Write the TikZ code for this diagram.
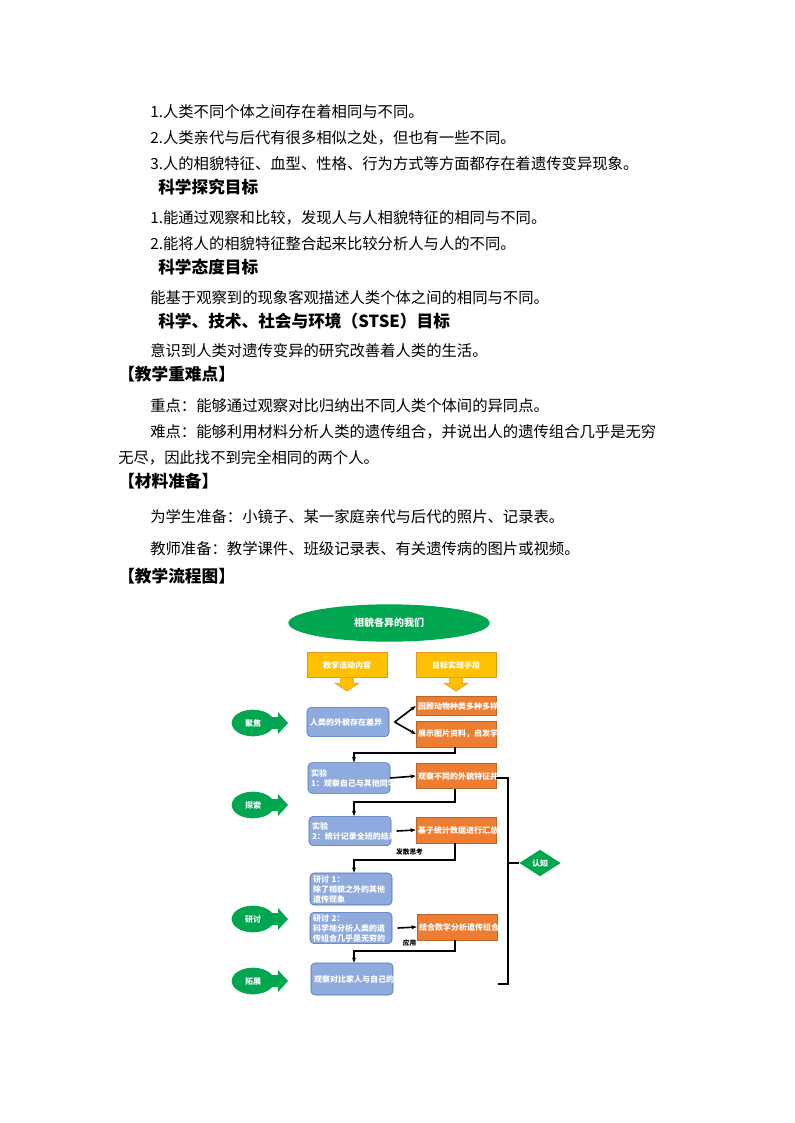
\documentclass[tikz,border=0pt]{standalone}
\usepackage{fontspec}
\setmainfont{Noto Sans CJK SC}
\usetikzlibrary{shapes.geometric,shapes.arrows,arrows.meta}
\definecolor{gr}{RGB}{0,166,80}
\definecolor{yl}{RGB}{255,192,0}
\definecolor{ylb}{RGB}{230,150,40}
\definecolor{bl}{RGB}{143,170,220}
\definecolor{blb}{RGB}{70,110,180}
\definecolor{orr}{RGB}{237,125,49}
\begin{document}
\begin{tikzpicture}[x=0.75pt,y=-0.75pt,
 body/.style={anchor=west,inner sep=0,font=\fontsize{11.5}{13}\selectfont},
 head/.style={anchor=west,inner sep=0,font=\fontsize{12.5}{14}\selectfont\bfseries},
 bbox/.style={draw=blb,fill=bl,rounded corners=3pt,minimum width=61.5pt,text width=57pt,inner sep=1pt,font=\fontsize{6}{7.5}\selectfont\bfseries,text=white,align=left},
 obox/.style={draw=orr!80!black,fill=orr,minimum width=60pt,text width=57pt,inner sep=1pt,font=\fontsize{6}{7.5}\selectfont\bfseries,text=white,align=left},
 ybox/.style={draw=ylb,fill=yl,minimum width=60pt,minimum height=18.75pt,font=\fontsize{6}{7}\selectfont\bfseries,text=white},
 conn/.style={line width=1.2pt,-{Stealth[length=4pt]}},
 plain/.style={line width=1.2pt},
 side/.style={ellipse,fill=gr,minimum width=32pt,minimum height=20pt,inner sep=0,font=\fontsize{6}{7}\selectfont\bfseries,text=white}]
\useasboundingbox (0,0) rectangle (794,1123);
\fill[white] (0,0) rectangle (794,1123);
% text
\node[body] (t1) at (150,112) {1.人类不同个体之间存在着相同与不同。};
\node[body] (t2) at (150,138) {2.人类亲代与后代有很多相似之处，但也有一些不同。};
\node[body] (t3) at (150,164) {3.人的相貌特征、血型、性格、行为方式等方面都存在着遗传变异现象。};
\node[head] (h1) at (158,187) {科学探究目标};
\node[body] (t4) at (150,218) {1.能通过观察和比较，发现人与人相貌特征的相同与不同。};
\node[body] (t5) at (150,244) {2.能将人的相貌特征整合起来比较分析人与人的不同。};
\node[head] (h2) at (158,267) {科学态度目标};
\node[body] (t6) at (150,298) {能基于观察到的现象客观描述人类个体之间的相同与不同。};
\node[head] (h3) at (158,321) {科学、技术、社会与环境（STSE）目标};
\node[body] (t7) at (150,351) {意识到人类对遗传变异的研究改善着人类的生活。};
\node[head] (h4) at (118,374) {【教学重难点】};
\node[body] (t8) at (150,406) {重点：能够通过观察对比归纳出不同人类个体间的异同点。};
\node[body] (t9) at (150,432) {难点：能够利用材料分析人类的遗传组合，并说出人的遗传组合几乎是无穷};
\node[body] (t10) at (118,458) {无尽，因此找不到完全相同的两个人。};
\node[head] (h5) at (118,481) {【材料准备】};
\node[body] (t11) at (150,517) {为学生准备：小镜子、某一家庭亲代与后代的照片、记录表。};
\node[body] (t12) at (150,549) {教师准备：教学课件、班级记录表、有关遗传病的图片或视频。};
\node[head] (h6) at (118,576) {【教学流程图】};
% flowchart
\node[ellipse,fill=gr,minimum width=151pt,minimum height=28pt,font=\fontsize{7.5}{9}\selectfont\bfseries,text=white] (top) at (389,623) {相貌各异的我们};
\node[ybox] (y1) at (347,665) {教学活动内容};
\node[ybox] (y2) at (456,665) {目标实现手段};
\foreach \n in {y1,y2}{
 \fill[yl,draw=ylb] ([xshift=-5pt]\n.south) -- ++(0,-4pt) -- ++(-4pt,0) -- ([yshift=-10pt]\n.south) -- ([xshift=9pt,yshift=-4pt]\n.south) -- ([xshift=5pt,yshift=-4pt]\n.south) -- ([xshift=5pt]\n.south);}
\node[bbox,minimum height=22pt] (b1) at (348,722) {人类的外貌存在差异};
\node[obox,minimum height=14pt] (r1) at (456,706) {回顾动物种类多种多样};
\node[obox,minimum height=19.5pt] (r2) at (456,734) {展示图片资料，启发学生思考};
\node[bbox,minimum height=23pt] (b2) at (349,778) {实验 1：观察自己与其他同学外貌的异同};
\node[obox,minimum height=19pt] (r3) at (456,776) {观察不同的外貌特征并加以区分};
\node[bbox,minimum height=22pt] (b3) at (350,831) {实验 2：统计记录全班的结果并分析};
\node[obox,minimum height=19.5pt] (r4) at (456,830) {基于统计数据进行汇总并提炼核心};
\node[bbox,minimum height=24pt] (b4) at (351,889) {研讨 1：\\除了相貌之外的其他\\遗传现象};
\node[bbox,minimum height=23.5pt] (b5) at (351,928) {研讨 2：\\科学地分析人类的遗\\传组合几乎是无穷的};
\node[obox,minimum height=19.5pt] (r5) at (457,927) {结合数学分析遗传组合};
\node[bbox,minimum height=24pt] (b6) at (352,979) {观察对比家人与自己的异同点};
\node[diamond,fill=gr,minimum width=31pt,minimum height=20pt,inner sep=0,font=\fontsize{6}{7}\selectfont\bfseries,text=white] (d) at (540,863) {认知};
% side labels
\foreach \n/\yy/\t in {s1/723/聚焦,s2/805/探索,s3/919/研讨,s4/981/拓展}{
 \fill[gr] (272,\yy-6) -- (278,\yy-6) -- (278,\yy-11) -- (288,\yy) -- (278,\yy+11) -- (278,\yy+6) -- (272,\yy+6) -- cycle;
 \node[side] (\n) at (253,\yy) {\t};}
% connectors
\draw[conn] ([xshift=4pt]b1.east) -- (r1.west);
\draw[conn] ([xshift=4pt]b1.east) -- (r2.west);
\coordinate (c1) at (455,753); \coordinate (c1b) at (354,753);
\draw[conn] (r2.south -| c1) -- (c1) -- (c1b) -- (c1b |- b2.north);
\draw[conn] (b2.east) -- (r3.west);
\coordinate (c2) at (455,802); \coordinate (c2b) at (354,802);
\draw[conn] (r3.south -| c2) -- (c2) -- (c2b) -- (c2b |- b3.north);
\draw[conn] ([xshift=4pt]b3.east) -- (r4.west);
\coordinate (c3) at (455,860); \coordinate (c3b) at (354,860);
\draw[conn] (r4.south -| c3) -- (c3) -- node[above,font=\fontsize{5}{6}\selectfont\bfseries,pos=0.45] {发散思考} (c3b) -- (c3b |- b4.north);
\draw[conn] ([xshift=4pt]b5.east) -- (r5.west);
\coordinate (c4) at (455,951); \coordinate (c4b) at (354,951);
\draw[conn] (r5.south -| c4) -- (c4) -- node[above,font=\fontsize{5}{6}\selectfont\bfseries,pos=0.45] {应用} (c4b) -- (c4b |- b6.north);
\coordinate (k1) at (508,778); \coordinate (k2) at (508,984); \coordinate (k3) at (498,984);
\draw[plain] (r3.east |- k1) -- (k1) -- (k2) -- (k3);
\draw[plain] (508,863) -- (d.west);
\end{tikzpicture}
\end{document}
